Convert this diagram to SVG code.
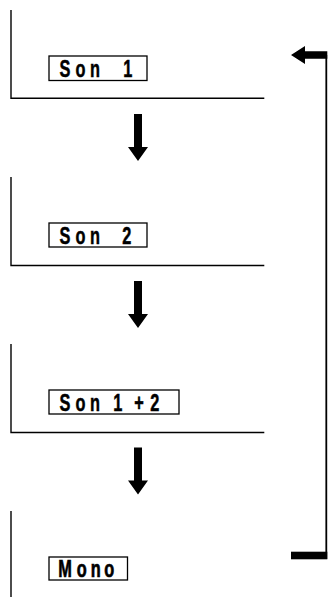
<svg xmlns="http://www.w3.org/2000/svg" width="328" height="597" viewBox="0 0 328 597">
<style>
.frame{fill:none;stroke:#000;stroke-width:1.4}
.box{fill:#fff;stroke:#000;stroke-width:1.3}
.lbl{font-family:"Liberation Sans",Arial,sans-serif;font-weight:bold;font-size:24px;fill:#000;stroke:#000;stroke-width:0.5}
.arr{fill:#000;stroke:none}
</style>
<rect width="328" height="597" fill="#fff"/>
<g id="node-son1">
<path class="frame" d="M11,10 V98.3 H264.3"/>
<rect class="box" x="49" y="56" width="98" height="24.5"/>
<text class="lbl" transform="scale(0.68 1)" x="87.4 110.9 132.4 147 181.2" y="76.8">Son 1</text>
</g>
<g id="node-son2">
<path class="frame" d="M11,177 V265.5 H264.3"/>
<rect class="box" x="49" y="223" width="98" height="24"/>
<text class="lbl" transform="scale(0.68 1)" x="87.4 110.9 132.4 147 179.7" y="243.6">Son 2</text>
</g>
<g id="node-son12">
<path class="frame" d="M11,344 V432.5 H264.3"/>
<rect class="box" x="49" y="390" width="130" height="24"/>
<text class="lbl" transform="scale(0.68 1)" x="87.4 110.9 132.4 147 166.5 197.6 220.9" y="410.6">Son 1+2</text>
</g>
<g id="node-mono">
<path class="frame" d="M11,511 V597"/>
<rect class="box" x="49" y="557" width="78.5" height="23"/>
<text class="lbl" transform="scale(0.68 1)" x="85.6 112.8 133.4 153.5" y="577.2" style="stroke-width:0.7">Mono</text>
</g>
<g id="connectors">
<path class="arr" d="M134,114 H142 V147 H148 L138,161 L128,147 H134 Z"/>
<path class="arr" d="M134,281 H142 V314 H148 L138,328 L128,314 H134 Z"/>
<path class="arr" d="M134,447.5 H142 V480.5 H148 L138,494.5 L128,480.5 H134 Z"/>
<rect class="arr" x="291" y="551.7" width="36.3" height="7.6"/>
<line x1="326.3" y1="55" x2="326.3" y2="559" stroke="#000" stroke-width="1.8"/>
<path class="arr" d="M327.3,51.2 V58.8 H305 V64 L291,55 L305,46 V51.2 Z"/>
</g>
</svg>
